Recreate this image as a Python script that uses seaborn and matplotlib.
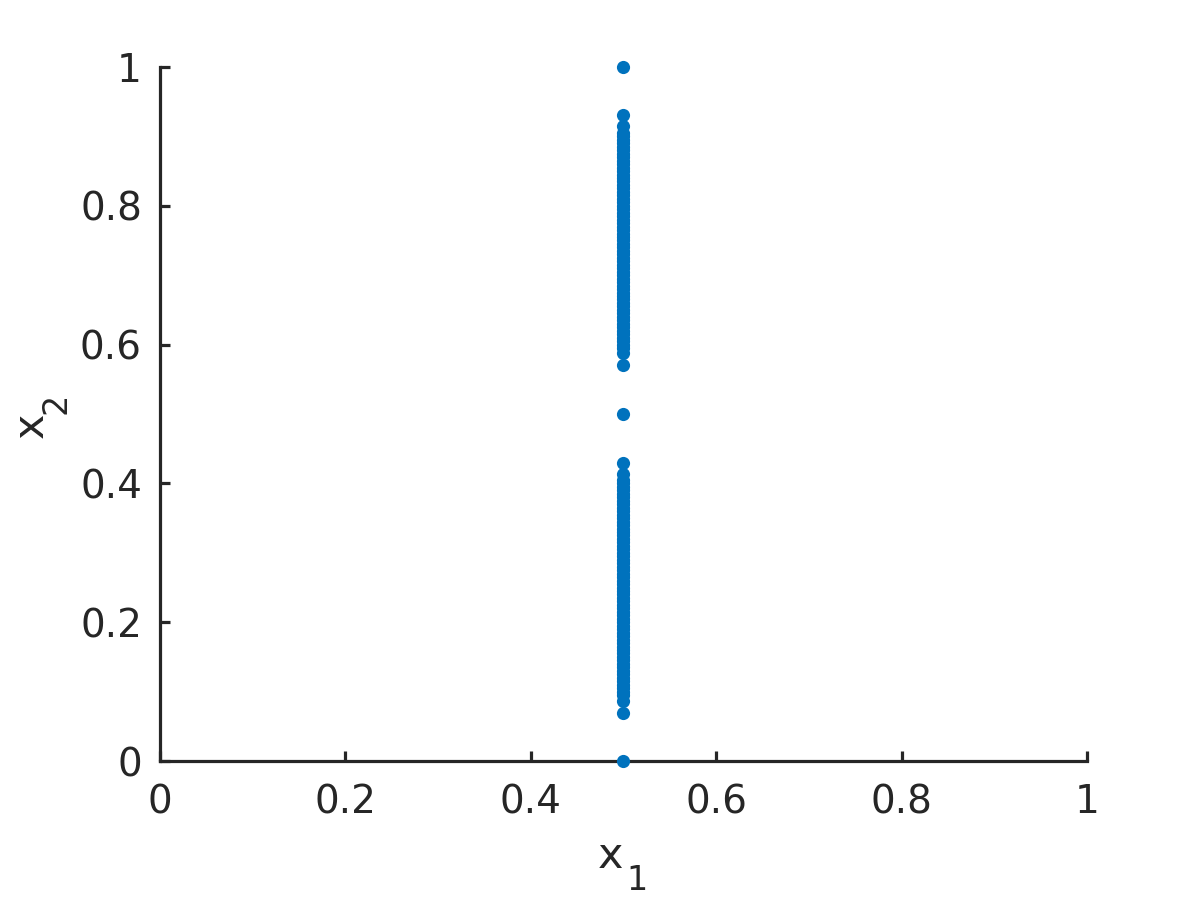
import matplotlib
matplotlib.use("Agg")
import matplotlib.pyplot as plt
import seaborn as sns
import pandas as pd

# donnees (toutes les abscisses valent 0.5)
x_const = 0.5
y_upper = [1.0, 0.931, 0.915,
           0.905, 0.90, 0.895, 0.89, 0.885, 0.88, 0.875, 0.87, 0.865, 0.86,
           0.855, 0.85, 0.845, 0.84, 0.835, 0.83, 0.825, 0.82, 0.815, 0.81,
           0.805, 0.80, 0.795, 0.79, 0.785, 0.78, 0.775, 0.77, 0.765, 0.76,
           0.755, 0.75, 0.745, 0.74, 0.735, 0.73, 0.725, 0.72, 0.715, 0.71,
           0.705, 0.70, 0.695, 0.69, 0.685, 0.68, 0.675, 0.67, 0.665, 0.66,
           0.655, 0.65, 0.645, 0.64, 0.635, 0.63, 0.625, 0.62, 0.615, 0.61,
           0.605, 0.60, 0.595, 0.588, 0.571]
y_middle = [0.5]
y_lower = [0.43, 0.413,
           0.405, 0.40, 0.395, 0.39, 0.385, 0.38, 0.375, 0.37, 0.365, 0.36,
           0.355, 0.35, 0.345, 0.34, 0.335, 0.33, 0.325, 0.32, 0.315, 0.31,
           0.305, 0.30, 0.295, 0.29, 0.285, 0.28, 0.275, 0.27, 0.265, 0.26,
           0.255, 0.25, 0.245, 0.24, 0.235, 0.23, 0.225, 0.22, 0.215, 0.21,
           0.205, 0.20, 0.195, 0.19, 0.185, 0.18, 0.175, 0.17, 0.165, 0.16,
           0.155, 0.15, 0.145, 0.14, 0.135, 0.13, 0.125, 0.12, 0.115, 0.11,
           0.105, 0.10, 0.095, 0.087, 0.069, 0.0]
ticks = [0, 0.2, 0.4, 0.6, 0.8, 1]
tick_labels = ["0", "0.2", "0.4", "0.6", "0.8", "1"]

y_all = y_upper + y_middle + y_lower
df = pd.DataFrame({"x1": [x_const] * len(y_all), "x2": y_all})

sns.set_theme(style="white")
plt.rcParams["font.family"] = ["DejaVu Sans"]
dark = "#262626"

fig = plt.figure(figsize=(12, 9), dpi=100)
ax = fig.add_axes([0.1333, 0.1544, 0.7725, 0.7712])

sns.scatterplot(data=df, x="x1", y="x2", ax=ax, color="#0072BD",
                s=90, linewidth=0, marker="o", clip_on=False, zorder=3)

ax.set_xlim(0, 1)
ax.set_ylim(0, 1)
ax.set_xticks(ticks)
ax.set_xticklabels(tick_labels)
ax.set_yticks(ticks)
ax.set_yticklabels(tick_labels)

for side in ["top", "right"]:
    ax.spines[side].set_visible(False)
for side in ["left", "bottom"]:
    ax.spines[side].set_color(dark)
    ax.spines[side].set_linewidth(2.3)

ax.tick_params(axis="both", direction="in", length=7, width=2.3,
               bottom=True, left=True, colors=dark, labelsize=28,
               labelcolor=dark)
ax.tick_params(axis="y", pad=13)
ax.tick_params(axis="x", pad=16)

# libelles d'axes facon MATLAB (x avec indice decale)
ax.set_xlabel("")
ax.set_ylabel("")
fig.text(598 / 1200, 1 - 868 / 900, "x", fontsize=31, color=dark,
         ha="left", va="baseline")
fig.text(626 / 1200, 1 - 890 / 900, "1", fontsize=24, color=dark,
         ha="left", va="baseline")
fig.text(43 / 1200, 1 - 438 / 900, "x", fontsize=31, color=dark,
         ha="left", va="baseline", rotation=90, rotation_mode="anchor")
fig.text(65 / 1200, 1 - 414 / 900, "2", fontsize=24, color=dark,
         ha="left", va="baseline", rotation=90, rotation_mode="anchor")

fig.savefig("out.png", dpi=100)
plt.close(fig)
